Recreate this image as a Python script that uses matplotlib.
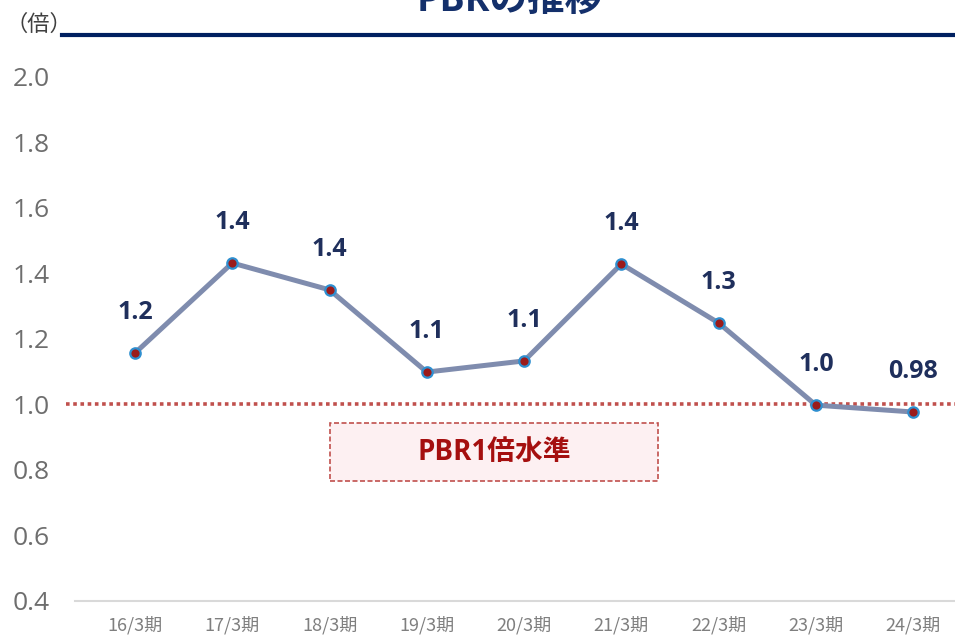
import matplotlib
matplotlib.use("Agg")
import matplotlib.pyplot as plt
from matplotlib.patches import Rectangle
from matplotlib.lines import Line2D

plt.rcParams['font.family'] = ['Open Sans', 'Noto Sans CJK JP', 'DejaVu Sans']

# data
periods = ["16/3期", "17/3期", "18/3期", "19/3期", "20/3期",
           "21/3期", "22/3期", "23/3期", "24/3期"]
pbr = [1.157, 1.432, 1.35, 1.099, 1.133, 1.429, 1.249, 0.998, 0.977]
pbr_labels = ["1.2", "1.4", "1.4", "1.1", "1.1", "1.4", "1.3", "1.0", "0.98"]
y_ticks = [0.4, 0.6, 0.8, 1.0, 1.2, 1.4, 1.6, 1.8, 2.0]
threshold = 1.0

navy = "#1F2F5C"
fig = plt.figure(figsize=(9.55, 6.39), dpi=100)
ax = fig.add_axes([0.0785, 0.0595, 0.9215, 0.82])

x = list(range(len(periods)))

# PBR 1x reference line
ax.axhline(threshold, xmin=-0.01, color="#C0504D", lw=2.6,
           linestyle=(0, (1, 1)), dash_capstyle="butt", zorder=2, clip_on=False)

ax.plot(x, pbr, color="#7F8CAE", lw=3.6, zorder=3, solid_capstyle="round")
ax.plot(x, pbr, linestyle="none", marker="o", markersize=7.5,
        markerfacecolor="#9B1B1B", markeredgecolor="#2E8FD0",
        markeredgewidth=1.6, zorder=4)

for xi, yi, lab in zip(x, pbr, pbr_labels):
    ax.annotate(lab, (xi, yi), xytext=(0, 29), textcoords="offset points",
                ha="center", va="center", fontsize=18, fontweight="bold",
                color=navy)

# label box
ax.add_patch(Rectangle((2.0, 0.766), 3.375, 0.1775, facecolor="#FDF0F2",
                       edgecolor="#C0504D", lw=1.2, linestyle=(0, (3, 1.5)),
                       zorder=2))
ax.text(3.69, 0.855, "PBR1倍水準", ha="center", va="center", fontsize=20,
        fontweight="bold", color="#A50F0F", zorder=3)

ax.set_xlim(-0.617, 8.43)
ax.set_ylim(0.4, 2.0)
ax.set_xticks(x)
ax.set_xticklabels(periods, fontsize=13, color="#7F7F7F",
                   family=['Noto Sans CJK JP'])
ax.set_yticks(y_ticks)
ax.set_yticklabels([f"{v:.1f}" for v in y_ticks], fontsize=19, color="#6E6E6E")
ax.tick_params(axis="both", length=0)
ax.tick_params(axis="x", pad=11)
ax.tick_params(axis="y", pad=18)

for side in ["top", "right", "left"]:
    ax.spines[side].set_visible(False)
ax.spines["bottom"].set_color("#D9D9D9")
ax.spines["bottom"].set_linewidth(1.5)

# header: title, unit and navy rule
fig.text(0.534, 0.999, "PBRの推移", ha="center", va="center", fontsize=27,
         fontweight="bold", color="#14306B")
fig.text(0.006, 0.961, "（倍）", ha="left", va="center", fontsize=16,
         color="#404040")
fig.add_artist(Line2D([0.065, 1.0], [0.945, 0.945], color="#002060", lw=3))

fig.savefig("out.png", dpi=100)
